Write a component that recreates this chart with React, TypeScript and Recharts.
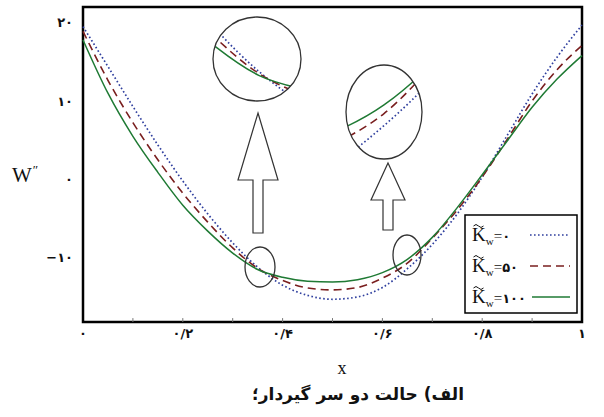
import React from 'react'
import { LineChart, Line, XAxis, YAxis, ReferenceArea, ReferenceLine } from 'recharts'

// x positions along the beam and W'' for each foundation stiffness
const xValues = [0, 0.05, 0.1, 0.15, 0.2, 0.25, 0.3, 0.35, 0.4, 0.45, 0.5, 0.55, 0.6, 0.65, 0.7, 0.75, 0.8, 0.85, 0.9, 0.95, 1]
const kw0 = [19.5, 14.4, 9.3, 4.4, -0.2, -4.4, -8.1, -11.2, -13.5, -14.8, -15.3, -15.0, -13.8, -11.4, -8.3, -4.4, 0.3, 5.6, 10.9, 15.6, 19.7]
const kw50 = [18.9, 12.65, 7.25, 2.5, -1.75, -5.45, -8.75, -11.35, -12.9, -13.85, -14.1, -13.8, -12.6, -10.7, -7.5, -3.9, 0.3, 5.1, 10.0, 14.0, 17.1]
const kw100 = [17.8, 11.0, 5.5, 0.9, -3.3, -6.6, -9.4, -11.5, -12.5, -13.0, -13.1, -12.8, -11.9, -10.2, -7.4, -3.6, 0.6, 4.9, 9.2, 12.8, 15.8]

const xTicks = [0, 0.2, 0.4, 0.6, 0.8, 1]
const xTickLabels = ['۰', '۰/۲', '۰/۴', '۰/۶', '۰/۸', '۱']
const minorTicks = [0.1, 0.2, 0.3, 0.4, 0.5, 0.6, 0.7, 0.8, 0.9]
const yTicks = [-10, 0, 10, 20]
const yTickLabels = ['−۱۰', '۰', '۱۰', '۲۰']
const legendValues = ['۰', '۵۰', '۱۰۰']

const Y_MIN = -18.2
const Y_MAX = 22

const data = xValues.map((x, i) => ({ x, kw0: kw0[i], kw50: kw50[i], kw100: kw100[i] }))

const BLUE = '#2f3f9e'
const RED = '#7a1f1f'
const GREEN = '#1f7a34'
const digitFont = '"DejaVu Sans", sans-serif'
const serif = '"Liberation Serif", "DejaVu Serif", serif'

function Series() {
  return [
    <Line key="a" dataKey="kw0" type="monotone" stroke={BLUE} strokeWidth={1.7} strokeDasharray="1.6 2.4" dot={false} activeDot={false} isAnimationActive={false} />,
    <Line key="b" dataKey="kw50" type="monotone" stroke={RED} strokeWidth={1.6} strokeDasharray="8 5" dot={false} activeDot={false} isAnimationActive={false} />,
    <Line key="c" dataKey="kw100" type="monotone" stroke={GREEN} strokeWidth={1.5} dot={false} activeDot={false} isAnimationActive={false} />,
  ]
}

type InsetProps = {
  left: number
  top: number
  width: number
  height: number
  xDomain: [number, number]
  yDomain: [number, number]
}

// magnified view of the curves, clipped to an ellipse
function Inset({ left, top, width, height, xDomain, yDomain }: InsetProps) {
  return (
    <div
      style={{
        position: 'absolute',
        left,
        top,
        width,
        height,
        borderRadius: '50%',
        overflow: 'hidden',
        background: '#fff',
      }}
    >
      <LineChart width={width} height={height} data={data} margin={{ top: 0, right: 0, bottom: 0, left: 0 }}>
        <XAxis type="number" dataKey="x" domain={xDomain} allowDataOverflow hide />
        <YAxis type="number" domain={yDomain} allowDataOverflow hide width={0} />
        {Series()}
      </LineChart>
    </div>
  )
}

export default function App() {
  return (
    <div style={{ position: 'absolute', left: 0, top: 0, width: 604, height: 417, background: '#fff' }}>
      <LineChart width={604} height={417} data={data} margin={{ top: 7, right: 22, bottom: 65, left: 43 }}>
        <XAxis
          type="number"
          dataKey="x"
          domain={[0, 1]}
          ticks={xTicks}
          axisLine={false}
          tickLine={false}
          height={30}
          tick={(p: any) => (
            <text x={p.x} y={p.y} dy="0.62em" textAnchor="middle" fontFamily={digitFont} fontSize={13} fontWeight="bold" fill="#111">
              {xTickLabels[xTicks.indexOf(p.payload.value)]}
            </text>
          )}
        />
        <YAxis
          type="number"
          domain={[Y_MIN, Y_MAX]}
          ticks={yTicks}
          allowDataOverflow
          axisLine={false}
          tickLine={false}
          width={40}
          tick={(p: any) => (
            <text x={p.x - 2} y={p.y} dy="0.35em" textAnchor="end" fontFamily={digitFont} fontSize={13} fontWeight="bold" fill="#111">
              {yTickLabels[yTicks.indexOf(p.payload.value)]}
            </text>
          )}
        />
        {minorTicks.map((t) => (
          <ReferenceLine
            key={t}
            segment={[
              { x: t, y: Y_MIN },
              { x: t, y: Y_MIN + 0.5 },
            ]}
            stroke="#777"
            strokeWidth={1}
          />
        ))}
        {Series()}
        <ReferenceArea x1={0} x2={1} y1={Y_MIN} y2={Y_MAX} fill="none" stroke="#000" strokeWidth={2.5} />
      </LineChart>

      <Inset left={213} top={17} width={88} height={84} xDomain={[0.296, 0.4]} yDomain={[-13.43, -7.12]} />
      <Inset left={346} top={65} width={76} height={94} xDomain={[0.6154, 0.6846]} yDomain={[-13.34, -7.88]} />

      <svg width={604} height={417} style={{ position: 'absolute', left: 0, top: 0, pointerEvents: 'none' }}>
        <g fill="none" stroke="#333" strokeWidth={1.3}>
          <ellipse cx={257} cy={59} rx={44} ry={42} />
          <ellipse cx={384} cy={112} rx={38} ry={47} />
          <ellipse cx={260} cy={267} rx={15} ry={20} />
          <ellipse cx={407} cy={255} rx={14} ry={20} />
        </g>
        <g fill="#fff" stroke="#333" strokeWidth={1.2}>
          <polygon points="258,113 278,180 263,180 263,233 253,233 253,180 238,180" />
          <polygon points="388,163 405,200 393,200 393,230 383,230 383,200 371,200" />
        </g>

        <text x={12} y={182} fontFamily={serif} fontSize={21} fill="#111">
          W
          <tspan dx={1} dy={-8} fontSize={13}>″</tspan>
        </text>
        <text x={342} y={374} textAnchor="middle" fontFamily={serif} fontSize={18} fill="#111">
          x
        </text>

        <rect x={465} y={215} width={112} height={98} fill="#fff" stroke="#000" strokeWidth={1.5} />
        {legendValues.map((v, i) => {
          const base = 241 + i * 31
          const lineY = base - 6
          return (
            <g key={v}>
              <path
                d={`M473.5,${base - 15} q2.5,-3 5,0 t5,0`}
                fill="none"
                stroke="#111"
                strokeWidth={1}
              />
              <text x={472} y={base} fontFamily={serif} fontSize={19} fill="#111">
                K
                <tspan dy={4} fontSize={11}>w</tspan>
                <tspan dy={-4} fontSize={15}>=</tspan>
                <tspan fontFamily={digitFont} fontSize={13} fontWeight="bold">{v}</tspan>
              </text>
              <line
                x1={i === 2 ? 532 : 530}
                x2={570}
                y1={lineY}
                y2={lineY}
                stroke={[BLUE, RED, GREEN][i]}
                strokeWidth={[1.7, 1.6, 1.5][i]}
                strokeDasharray={['1.6 2.4', '8 5', undefined][i]}
              />
            </g>
          )
        })}
      </svg>

      <div
        dir="rtl"
        style={{
          position: 'absolute',
          left: 0,
          width: 716,
          top: 383,
          lineHeight: '22px',
          textAlign: 'center',
          fontFamily: digitFont,
          fontWeight: 'bold',
          fontSize: 17,
          color: '#111',
        }}
      >
        الف) حالت دو سر گیردار؛
      </div>
    </div>
  )
}
